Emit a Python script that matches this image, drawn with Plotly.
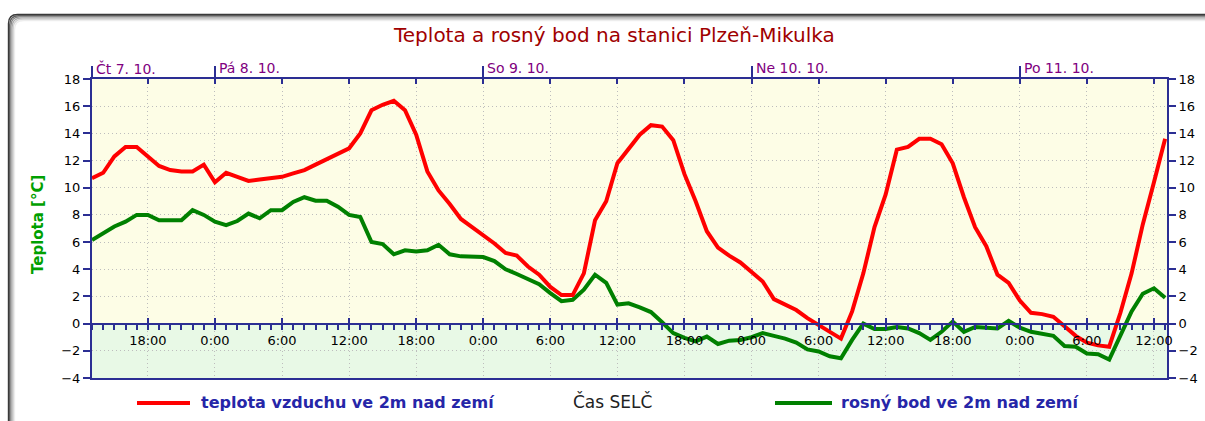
import pandas as pd
import plotly.graph_objects as go

# ---------------- data ----------------
start_time = "2021-10-07 13:00"
n_hours = 97
times = pd.date_range(start_time, periods=n_hours, freq="h")

teplota = [10.7, 11.1, 12.3, 13.0, 13.0, 12.3, 11.6, 11.3, 11.2, 11.2,
           11.7, 10.4, 11.1, 10.8, 10.5, 10.6, 10.7, 10.8, 11.05, 11.3,
           11.7, 12.1, 12.5, 12.9, 14.0, 15.7, 16.1, 16.4, 15.7, 13.9,
           11.2, 9.8, 8.8, 7.7, 7.1, 6.5, 5.9, 5.2, 5.0, 4.2,
           3.6, 2.7, 2.1, 2.1, 3.7, 7.6, 9.0, 11.8, 12.9, 13.9,
           14.6, 14.5, 13.5, 11.0, 9.0, 6.8, 5.6, 5.0, 4.5, 3.8,
           3.1, 1.8, 1.4, 1.0, 0.4, -0.1, -0.6, -1.1, 0.9, 3.7,
           7.1, 9.5, 12.8, 13.0, 13.6, 13.6, 13.2, 11.8, 9.3, 7.1,
           5.7, 3.6, 3.0, 1.7, 0.8, 0.7, 0.5, -0.2, -0.9, -1.4,
           -1.6, -1.7, 0.8, 3.7, 7.3, 10.4, 13.6]

rosny_bod = [6.15, 6.65, 7.15, 7.5, 8.0, 8.0, 7.6, 7.6, 7.6, 8.35,
             8.0, 7.5, 7.25, 7.55, 8.1, 7.75, 8.35, 8.35, 8.95, 9.3,
             9.05, 9.05, 8.6, 8.0, 7.85, 6.0, 5.85, 5.1, 5.4, 5.3,
             5.4, 5.8, 5.1, 4.95, 4.95, 4.9, 4.6, 4.0, 3.65, 3.3,
             2.9, 2.25, 1.65, 1.75, 2.5, 3.6, 3.0, 1.4, 1.5, 1.2,
             0.85, 0.1, -0.7, -1.05, -1.3, -0.95, -1.5, -1.25, -1.2, -1.0,
             -0.7, -0.9, -1.1, -1.4, -1.9, -2.05, -2.4, -2.55, -1.2, 0.0,
             -0.4, -0.4, -0.25, -0.35, -0.7, -1.2, -0.6, 0.15, -0.6, -0.25,
             -0.3, -0.35, 0.2, -0.3, -0.6, -0.75, -0.9, -1.65, -1.7, -2.2,
             -2.25, -2.65, -0.95, 0.9, 2.2, 2.6, 1.9]

day_positions = ["2021-10-07 13:00", "2021-10-08 00:00", "2021-10-09 00:00",
                 "2021-10-10 00:00", "2021-10-11 00:00"]
day_labels = ["Čt 7. 10.", "Pá 8. 10.", "So 9. 10.", "Ne 10. 10.", "Po 11. 10."]

x_range = ["2021-10-07 13:00", "2021-10-11 13:10"]
y_range = [-4, 18]

title_text = "Teplota a rosný bod na stanici Plzeň-Mikulka"
y_title = "Teplota [°C]"
x_title = "Čas SELČ"
name_t = "teplota vzduchu ve 2m nad zemí"
name_d = "rosný bod ve 2m nad zemí"

# ---------------- layout helpers ----------------
W, H = 1205, 421
L, R, T, B = 92, 1167, 79, 378
FONT = "DejaVu Sans"
NAVY = "#2B2E93"
GRID = "#BDBDBD"


def px(xp):
    return (xp - L) / (R - L)


def py(yp):
    return (B - yp) / (B - T)


fig = go.Figure()
fig.add_trace(go.Scatter(x=times, y=rosny_bod, mode="lines", name=name_d,
                         line=dict(color="#008000", width=4), showlegend=False))
fig.add_trace(go.Scatter(x=times, y=teplota, mode="lines", name=name_t,
                         line=dict(color="#FF0000", width=4), showlegend=False))

zero_pos = (0 - y_range[0]) / (y_range[1] - y_range[0])

axis_common = dict(range=x_range, type="date", fixedrange=True, automargin=False)

fig.update_layout(
    width=W, height=H,
    margin=dict(l=L, r=W - R, t=T, b=H - B, pad=0, autoexpand=False),
    paper_bgcolor="white", plot_bgcolor="rgba(0,0,0,0)",
    font=dict(family=FONT, size=13, color="black"),
    showlegend=False,
    xaxis=dict(**axis_common, anchor="free", position=zero_pos,
               showline=True, linecolor=NAVY, linewidth=2,
               ticks="outside", ticklen=5, tickwidth=2, tickcolor=NAVY,
               tick0="2021-10-07 00:00", dtick=6 * 3600000,
               tickformat="%-H:%M", tickfont=dict(size=13, color="black"),
               showgrid=True, gridcolor=GRID, griddash="1px,3px", gridwidth=1,
               minor=dict(dtick=3600000, tick0="2021-10-07 00:00", ticks="outside",
                          ticklen=5, tickwidth=1.5, tickcolor=NAVY, showgrid=False),
               zeroline=False),
    xaxis2=dict(**axis_common, overlaying="x", side="top", anchor="y",
                showline=True, linecolor=NAVY, linewidth=2,
                ticks="inside", ticklen=5, tickwidth=2, tickcolor=NAVY,
                tick0="2021-10-07 00:00", dtick=6 * 3600000,
                showticklabels=False, showgrid=False),
    xaxis3=dict(**axis_common, overlaying="x", side="top", anchor="y",
                showline=False, ticks="outside", ticklen=12, tickwidth=2,
                tickcolor=NAVY, tickmode="array", tickvals=day_positions,
                showticklabels=False, showgrid=False),
    xaxis4=dict(**axis_common, overlaying="x", side="bottom", anchor="y",
                showline=True, linecolor=NAVY, linewidth=2, ticks="",
                showticklabels=False, showgrid=False),
    xaxis5=dict(**axis_common, overlaying="x", anchor="free", position=zero_pos,
                showline=False, ticks="inside", ticklen=6, tickwidth=2, tickcolor=NAVY,
                tick0="2021-10-07 00:00", dtick=6 * 3600000,
                showticklabels=False, showgrid=False),
    yaxis=dict(range=y_range, dtick=2, fixedrange=True, automargin=False,
               showline=True, linecolor=NAVY, linewidth=2,
               ticks="outside", ticklen=7, tickwidth=2, tickcolor=NAVY,
               tickfont=dict(size=13, color="black"),
               showgrid=True, gridcolor=GRID, griddash="1px,3px", gridwidth=1,
               zeroline=False),
    yaxis2=dict(range=y_range, dtick=2, fixedrange=True, automargin=False,
                overlaying="y", side="right",
                anchor="x", showline=True, linecolor=NAVY, linewidth=2,
                ticks="outside", ticklen=7, tickwidth=2, tickcolor=NAVY,
                tickfont=dict(size=13, color="black"), showgrid=False, zeroline=False),
)

# dummy traces to activate the extra axes
for ax in ["x2", "x3", "x4", "x5"]:
    fig.add_trace(go.Scatter(x=[times[0]], y=[None], xaxis=ax, yaxis="y",
                             mode="lines", showlegend=False, hoverinfo="skip"))
fig.add_trace(go.Scatter(x=[times[0]], y=[None], xaxis="x", yaxis="y2",
                         mode="lines", showlegend=False, hoverinfo="skip"))

shapes = []
# plot backgrounds (yellow above zero, green below)
shapes.append(dict(type="rect", xref="paper", yref="y", x0=0, x1=1, y0=0, y1=y_range[1],
                   fillcolor="#FDFDE6", line=dict(width=0), layer="below"))
shapes.append(dict(type="rect", xref="paper", yref="y", x0=0, x1=1, y0=y_range[0], y1=0,
                   fillcolor="#E8F9E6", line=dict(width=0), layer="below"))

# outer rounded frame with gray gradient
frame_cols = ["#3A3A3A", "#5E5E5E", "#858585", "#ABABAB", "#D2D2D2", "#EDEDED"]
for i, c in enumerate(frame_cols):
    o = 8.5 + i * 1.2
    r = 9
    x0, y0 = o, 14.5 + i * 1.2
    xe, ye = 1230, 440
    path = (f"M {px(x0)},{py(ye)} L {px(x0)},{py(y0 + r)} "
            f"Q {px(x0)},{py(y0)} {px(x0 + r)},{py(y0)} L {px(xe)},{py(y0)}")
    shapes.append(dict(type="path", xref="paper", yref="paper", path=path,
                       line=dict(color=c, width=1.4), layer="above"))

# legend keys
shapes.append(dict(type="line", xref="paper", yref="paper", x0=px(137), x1=px(190),
                   y0=py(403), y1=py(403), line=dict(color="#FF0000", width=4)))
shapes.append(dict(type="line", xref="paper", yref="paper", x0=px(775), x1=px(832),
                   y0=py(403), y1=py(403), line=dict(color="#008000", width=4)))

annotations = []
annotations.append(dict(text=title_text, xref="paper", yref="paper", x=px(614), y=py(35),
                        showarrow=False, xanchor="center", yanchor="middle",
                        font=dict(size=20, color="#A00000", family=FONT)))
annotations.append(dict(text="<b>" + y_title + "</b>", xref="paper", yref="paper",
                        x=px(38), y=py(224),
                        showarrow=False, textangle=-90, xanchor="center", yanchor="middle",
                        font=dict(size=15, color="#00A000", family=FONT)))
for pos, lab in zip(day_positions, day_labels):
    annotations.append(dict(text=lab, xref="x", yref="paper", x=pos, y=py(68),
                            showarrow=False, xanchor="left", yanchor="middle", xshift=2,
                            font=dict(size=14, color="#800080", family=FONT)))
annotations.append(dict(text="<b>" + name_t + "</b>", xref="paper", yref="paper",
                        x=px(199), y=py(402),
                        showarrow=False, xanchor="left", yanchor="middle",
                        font=dict(size=16, color="#2626A8", family=FONT)))
annotations.append(dict(text=x_title, xref="paper", yref="paper", x=px(612), y=py(401),
                        showarrow=False, xanchor="center", yanchor="middle",
                        font=dict(size=17, color="#222222", family=FONT)))
annotations.append(dict(text="<b>" + name_d + "</b>", xref="paper", yref="paper",
                        x=px(839), y=py(402),
                        showarrow=False, xanchor="left", yanchor="middle",
                        font=dict(size=16, color="#2626A8", family=FONT)))

fig.update_layout(shapes=shapes, annotations=annotations)
fig.write_html("out.html", config={"displayModeBar": False},
               post_script="document.body.style.margin='0';document.body.style.overflow='hidden';")
